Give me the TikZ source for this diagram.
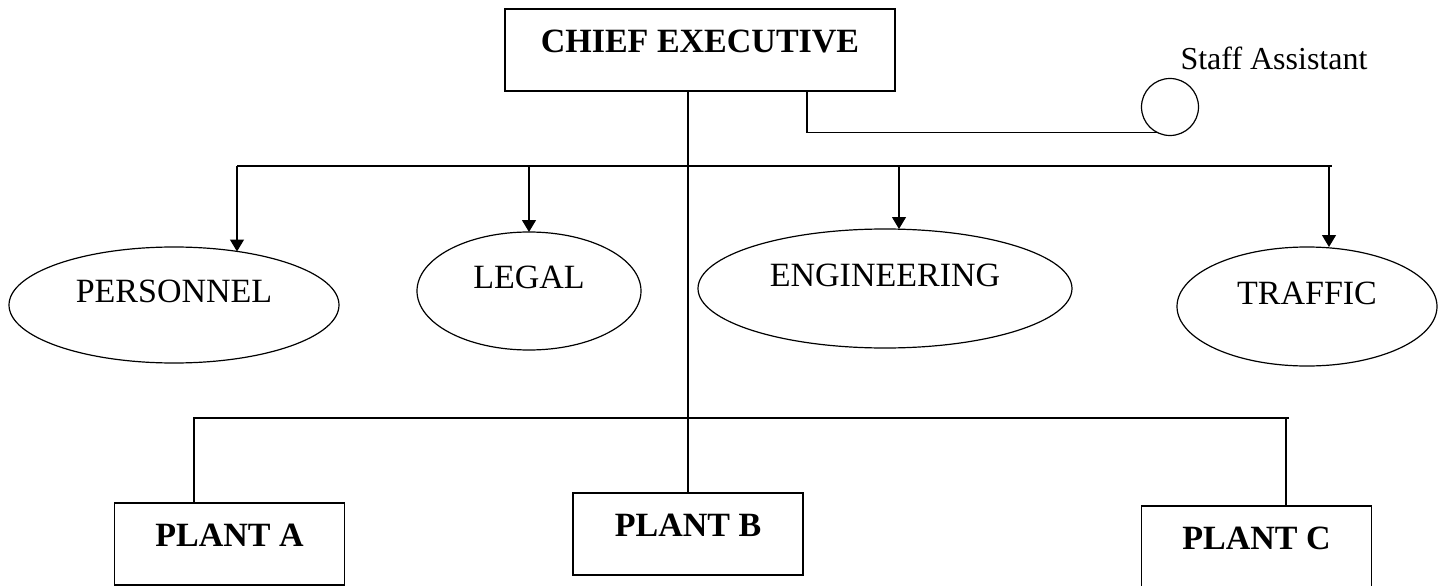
\documentclass[tikz,border=0pt]{standalone}
\usepackage{fontspec}
\setmainfont{Liberation Serif}
\usepackage{tikz}
\usetikzlibrary{shapes.geometric,arrows.meta}

\begin{document}
\begin{tikzpicture}[x=1pt,y=-1pt,line width=1.2pt,
	unitbox/.style={draw,rectangle,minimum width=230pt,minimum height=82pt,inner sep=0pt,outer sep=0pt,text depth=17pt,font=\fontsize{34}{40}\selectfont\bfseries},
	dept/.style={draw,ellipse,inner sep=0pt,outer sep=0pt,text depth=27pt,font=\fontsize{34}{40}\selectfont},
	arr/.style={-{Triangle[length=12pt,width=14pt]}}]
	\clip (0,0) rectangle (1444,586);
	% chief executive and staff
	\node[unitbox,minimum width=390pt] (chief) at (700,50) {CHIEF EXECUTIVE};
	\node[draw,circle,minimum size=57pt,inner sep=0pt,outer sep=0pt] (staff) at (1170,107) {};
	\node[font=\fontsize{32}{38}\selectfont] (stafflabel) at (1274,58) {Staff Assistant};
	\draw ([xshift=107pt]chief.south) |- (staff.242);

	% departments
	\node[dept,minimum width=330pt,minimum height=116pt] (pers) at (174,305) {PERSONNEL};
	\node[dept,minimum width=224pt,minimum height=118pt] (legal) at (529,291) {LEGAL};
	\node[dept,minimum width=374pt,minimum height=119pt] (eng) at (885,288.5) {ENGINEERING};
	\node[dept,minimum width=260pt,minimum height=119pt] (traffic) at (1307,306.5) {TRAFFIC};
	\coordinate (d1) at (237,166);
	\coordinate (d2) at (1332,166);
	\draw (d1) -- (d2);
	\draw[arr] (d1) -- (d1 |- pers.40);
	\draw[arr] (legal.north |- d1) -- (legal.north);
	\draw[arr] ([xshift=14pt]eng.north |- d1) -- ([xshift=14pt]eng.north);
	\draw[arr] ([xshift=22pt]traffic.north |- d1) -- ([xshift=22pt]traffic.north);

	% plants
	\node[unitbox] (planta) at (229.5,544) {PLANT A};
	\node[unitbox] (plantb) at (688,534) {PLANT B};
	\node[unitbox] (plantc) at (1256.5,547) {PLANT C};
	\coordinate (p1) at (1289,418);
	\draw ([xshift=-35.5pt]planta.north) |- (p1);
	\draw ([xshift=29.5pt]plantc.north) -- ([xshift=29.5pt]plantc.north |- p1);
	\draw (chief.south -| plantb.north) -- (plantb.north);
\end{tikzpicture}
\end{document}
